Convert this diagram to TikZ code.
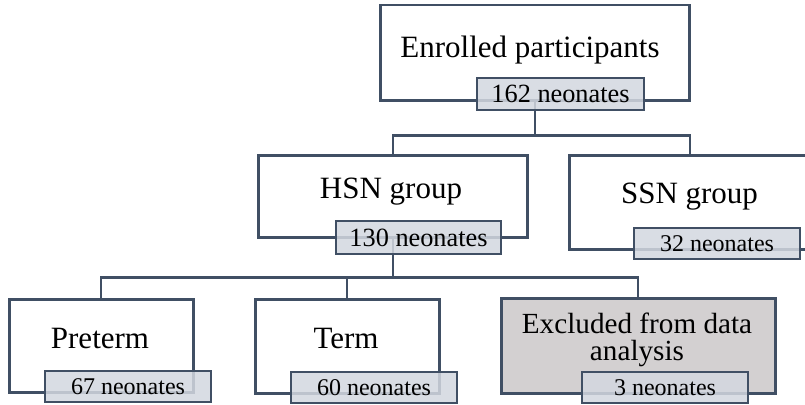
\documentclass[tikz,border=0pt]{standalone}
\usepackage{fontspec}
\setmainfont{Liberation Serif}
\definecolor{lineC}{HTML}{404F64}
\definecolor{lblC}{HTML}{D3D8E0}
\definecolor{exC}{HTML}{D3D0D1}
\tikzset{
  mainbox/.style={draw=lineC, line width=2.5pt, fill=white, inner sep=0pt, anchor=north west},
  lblbox/.style={draw=lineC, line width=2.6pt, fill=lblC, fill opacity=0.85, text opacity=1, inner sep=0pt, font=\fontsize{24}{28}\selectfont},
  bigtxt/.style={anchor=base, inner sep=0pt, font=\fontsize{31}{35}\selectfont},
  conn/.style={draw=lineC, line width=2.3pt},
}
\begin{document}
\begin{tikzpicture}[x=1pt,y=-1pt]
\clip (0,0) rectangle (805,404);
\fill[white] (0,0) rectangle (805,404);
% main boxes
\node[mainbox, minimum width=309pt, minimum height=95pt] (enr) at (379,4) {};
\node[mainbox, minimum width=269pt, minimum height=82pt] (hsn) at (257,154) {};
\node[mainbox, minimum width=242pt, minimum height=94pt] (ssn) at (568,154) {};
\node[mainbox, minimum width=184pt, minimum height=93pt] (pre) at (8,298) {};
\node[mainbox, minimum width=184pt, minimum height=94pt] (term) at (254,298) {};
\node[mainbox, fill=exC, minimum width=274pt, minimum height=95pt] (exc) at (500,297) {};
% connectors
\draw[conn] (enr.south) -- ++(0,34) coordinate (j1) -| (hsn.north);
\draw[conn] (j1) -| (ssn.north);
\draw[conn] (hsn.south) -- ++(0,39) coordinate (j2) -| (pre.north);
\draw[conn] (j2) -| (term.north);
\draw[conn] (j2) -| (exc.north);
% titles
\node[bigtxt] (tenr) at (530,57) {Enrolled participants};
\node[bigtxt] (thsn) at (391,198) {HSN group};
\node[bigtxt] (tssn) at (689.5,203) {SSN group};
\node[bigtxt] (tpre) at (100,348) {Preterm};
\node[bigtxt] (tterm) at (346,348) {Term};
\node[bigtxt, font=\fontsize{29.2}{29}\selectfont] (texc) at (637,333) {Excluded from data};
\node[bigtxt, font=\fontsize{29.2}{29}\selectfont] (texc2) at (637,360) {analysis};
% count labels
\node[lblbox, minimum width=167pt, minimum height=32pt, font=\fontsize{26.3}{30}\selectfont] (l1) at (560.5,94) {162 neonates};
\node[lblbox, minimum width=165pt, minimum height=33pt, font=\fontsize{26.3}{30}\selectfont] (l2) at (418.5,237.5) {130 neonates};
\node[lblbox, minimum width=166pt, minimum height=31pt] (l3) at (717,243.5) {32 neonates};
\node[lblbox, minimum width=166pt, minimum height=31pt] (l4) at (128,386.5) {67 neonates};
\node[lblbox, minimum width=166pt, minimum height=31pt] (l5) at (374,387.5) {60 neonates};
\node[lblbox, minimum width=166pt, minimum height=31pt] (l6) at (665,387.5) {3 neonates};
\end{tikzpicture}
\end{document}
